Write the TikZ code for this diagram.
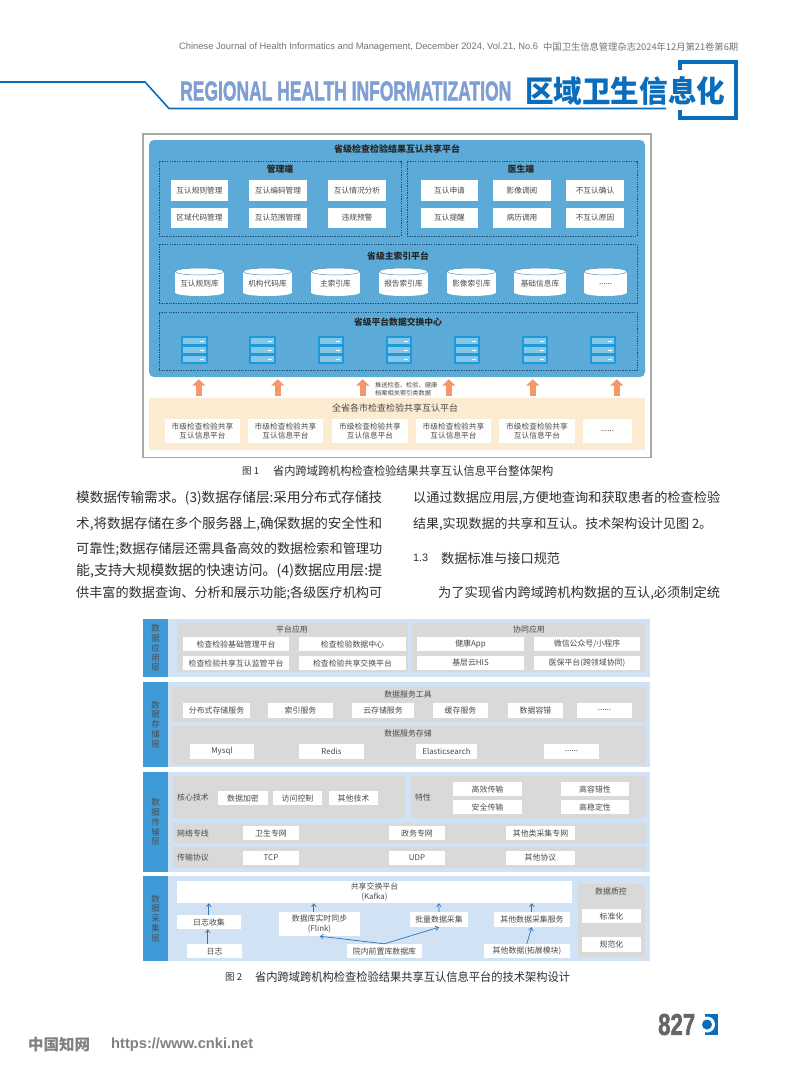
\documentclass[tikz,border=0pt]{standalone}
\usepackage{graphicx}
\usepackage{fontspec}
\setmainfont{Noto Sans CJK SC}
\newfontfamily\lib{Liberation Sans}
\newfontfamily\libheavy[UprightFont=* Bold,FakeBold=2]{Liberation Sans}
\usetikzlibrary{arrows.meta,calc}
\definecolor{hblue}{HTML}{0A6DBB}
\definecolor{hlight}{HTML}{7F9FD4}
\definecolor{panelblue}{HTML}{5CAAD8}
\definecolor{dashblue}{HTML}{1F4E79}
\definecolor{srvblue}{HTML}{1E9ADB}
\definecolor{srvlight}{HTML}{86C6E6}
\definecolor{orangea}{HTML}{F4976C}
\definecolor{cream}{HTML}{FBEBD0}
\definecolor{txt}{HTML}{4A4A4A}
\definecolor{layerbg}{HTML}{D0E2F3}
\definecolor{barblue}{HTML}{3F9BD8}
\definecolor{graypanel}{HTML}{D9D9D9}
\definecolor{arrowblue}{HTML}{2E75B6}
\definecolor{frameg}{HTML}{A8A8A8}
\newcommand\rbx[7][]{\node[boxbase,#1,minimum width={(#5-#3)*1pt},minimum height={(#6-#4)*1pt}] (#2) at ({(#3+#5)/2},{(#4+#6)/2}) {#7};}
\newcommand\rcyl[4]{%
  \fill[white] ({#2},271.5) rectangle ({#3},292.5);
  \fill[white] ({(#2+#3)/2},292.5) ellipse [x radius={(#3-#2)/2*1pt},y radius=3.5pt];
  \draw[panelblue!85!black,fill=white,line width=.5pt] ({(#2+#3)/2},271.5) ellipse [x radius={(#3-#2)/2*1pt},y radius=3.5pt];
  \node[smalltext] (#1) at ({(#2+#3)/2},284) {#4};}
\newcommand\rsrv[3]{%
  \node[fill=srvblue,inner sep=0pt,minimum width={(#3-#2)*1pt},minimum height=28pt] (#1) at ({(#2+#3)/2},350) {};
  \foreach \yy in {338,347,356}{
    \fill[srvlight] ({#2+2},\yy) rectangle ({#3-2},\yy+6.4);
    \fill[white] ({#3-8},\yy+2.7) rectangle ({#3-4},\yy+3.7);}}
\newcommand\rtxt[6][]{\node[anchor=west,inner sep=0pt,text=bodytxt,#1] (#2) at (#3,#4) {\resizebox{#5pt}{!}{#6}};}
\definecolor{bodytxt}{HTML}{2F2F2F}
\tikzset{
  boxbase/.style={inner sep=0pt,align=center},
  smalltext/.style={inner sep=0pt,align=center,text=txt,font=\fontsize{7.7}{9.2}\selectfont},
  whitebox/.style={fill=white,text=txt,font=\fontsize{7.7}{9.2}\selectfont},
  fbox2/.style={fill=white,text=txt,font=\fontsize{7.9}{9.8}\selectfont},
  dashframe/.style={draw=dashblue,dashed,dash pattern=on 1.3pt off 1.1pt,line width=.55pt},
  title1/.style={inner sep=0pt,text=black!85,font=\fontsize{9}{10}\selectfont\bfseries},
  title2/.style={inner sep=0pt,text=txt,font=\fontsize{7.9}{9.6}\selectfont},
  layer/.style={fill=layerbg},
  bar/.style={fill=barblue,text=black!70,font=\fontsize{8.5}{9.8}\selectfont},
  gpanel/.style={fill=graypanel},
  uparrow/.style={-{Triangle[width=13pt,length=6.5pt]},line width=6pt,orangea,shorten >=2pt,shorten <=2pt},
  flow/.style={-{Straight Barb[length=3pt,width=4.5pt]},arrowblue,line width=.7pt},
}
\begin{document}
\begin{tikzpicture}[x=1pt,y=-1pt]
\lineskiplimit=-100pt
\useasboundingbox (0,0) rectangle (794,1077);
\fill[white] (0,0) rectangle (794,1077);
% header
\rtxt[text=black!55]{hd1}{179}{47}{359}{\lib\fontsize{9}{11}\selectfont Chinese Journal of Health Informatics and Management, December 2024, Vol.21, No.6}
\rtxt[text=black!55]{hd2}{543}{47}{195}{\fontsize{9.4}{11}\selectfont 中国卫生信息管理杂志2024年12月第21卷第6期}
\draw[hblue,line width=1.6pt] (0,82) -- (145,82) -- (169,108.5) -- (666,108.5);
\draw[hblue,line width=4.5pt] (680.2,70) -- (680.2,62.2) -- (735.8,62.2) -- (735.8,117.8) -- (680.2,117.8) -- (680.2,110);
\node[anchor=west,inner sep=0pt,text=hlight] (hden) at (180,91) {\resizebox{331pt}{19pt}{\libheavy REGIONAL HEALTH INFORMATIZATION}};
\node[anchor=west,inner sep=0pt,text=hblue] (hdcn) at (525,91) {\resizebox{200pt}{26pt}{\bfseries 区域卫生信息化}};

% ===== Figure 1 =====
\rbx[draw=frameg,line width=1.1pt,fill=white]{frame}{143}{134}{651}{457.5}{}
\rbx[fill=panelblue,rounded corners=5pt]{prov}{149}{140}{645}{377}{}
\node[title1] (provt) at (397,149) {省级检查检验结果互认共享平台};
\rbx[dashframe]{mgr}{159}{161}{401}{236}{}
\rbx[dashframe]{doc}{407}{161}{637}{236}{}
\node[title1,font=\fontsize{8.8}{10}\selectfont\bfseries] (mgrt) at (280,169) {管理端};
\node[title1,font=\fontsize{8.8}{10}\selectfont\bfseries] (doct) at (521,169) {医生端};
\rbx[whitebox]{m1}{171}{180}{228}{201}{互认规则管理}
\rbx[whitebox]{m2}{249}{180}{307}{201}{互认编码管理}
\rbx[whitebox]{m3}{328}{180}{386}{201}{互认情况分析}
\rbx[whitebox]{m4}{171}{208}{228}{228}{区域代码管理}
\rbx[whitebox]{m5}{249}{208}{307}{228}{互认范围管理}
\rbx[whitebox]{m6}{328}{208}{386}{228}{违规预警}
\rbx[whitebox]{d1}{421}{180}{478}{201}{互认申请}
\rbx[whitebox]{d2}{493}{180}{551}{201}{影像调阅}
\rbx[whitebox]{d3}{566}{180}{624}{201}{不互认确认}
\rbx[whitebox]{d4}{421}{208}{478}{228}{互认提醒}
\rbx[whitebox]{d5}{493}{208}{551}{228}{病历调用}
\rbx[whitebox]{d6}{566}{208}{624}{228}{不互认原因}
\rbx[dashframe]{idx}{159}{244}{637}{303}{}
\node[title1,font=\fontsize{8.8}{10}\selectfont\bfseries] (idxt) at (398,256) {省级主索引平台};
\rcyl{c1}{175}{224}{互认规则库}
\rcyl{c2}{243}{292}{机构代码库}
\rcyl{c3}{311}{360}{主索引库}
\rcyl{c4}{379}{428}{报告索引库}
\rcyl{c5}{447}{496}{影像索引库}
\rcyl{c6}{514}{566}{基础信息库}
\rcyl{c7}{584}{627}{......}
\rbx[dashframe]{xch}{159}{312}{637}{370}{}
\node[title1,font=\fontsize{8.8}{10}\selectfont\bfseries] (xcht) at (398,322) {省级平台数据交换中心};
\rsrv{s1}{181}{208}
\rsrv{s2}{249}{276}
\rsrv{s3}{318}{344}
\rsrv{s4}{386}{412}
\rsrv{s5}{454}{480}
\rsrv{s6}{522}{548}
\rsrv{s7}{590}{616}
\rbx[fill=cream]{city}{149}{398}{645}{450}{}
\node[inner sep=0pt,text=txt,font=\fontsize{9}{10}\selectfont] (cityt) at (395,408) {全省各市检查检验共享互认平台};
\rbx[whitebox]{k1}{165}{419}{240}{443}{市级检查检验共享\\互认信息平台}
\rbx[whitebox]{k2}{248}{419}{323}{443}{市级检查检验共享\\互认信息平台}
\rbx[whitebox]{k3}{332}{419}{408}{443}{市级检查检验共享\\互认信息平台}
\rbx[whitebox]{k4}{416}{419}{491}{443}{市级检查检验共享\\互认信息平台}
\rbx[whitebox]{k5}{499}{419}{575}{443}{市级检查检验共享\\互认信息平台}
\rbx[whitebox]{k6}{583}{419}{632}{443}{......}
\foreach \dx in {50,129,214,300,384,468}{
  \draw[uparrow] ($(city.north west)+(\dx,0)$) -- ($(prov.south west)+(\dx,0)$);
}
\node[anchor=west,inner sep=0pt,align=left,text=txt,font=\fontsize{6.2}{7.8}\selectfont] (pushl) at (375,389) {推送检查、检验、健康\\档案相关索引类数据};
\node[anchor=west,inner sep=0pt,text=bodytxt] (cap1a) at (242,471) {\resizebox{17pt}{!}{\fontsize{10}{11}\selectfont 图 1}};
\node[anchor=west,inner sep=0pt,text=bodytxt] (cap1b) at (273,471) {\resizebox{280pt}{10pt}{\fontsize{10}{11}\selectfont 省内跨域跨机构检查检验结果共享互认信息平台整体架构}};

% ===== Body text =====
\rtxt{l1}{76}{498}{306}{\fontsize{12.7}{14}\selectfont 模数据传输需求。(3)数据存储层:采用分布式存储技}
\rtxt{l2}{76}{524}{306}{\fontsize{12.7}{14}\selectfont 术,将数据存储在多个服务器上,确保数据的安全性和}
\rtxt{l3}{76}{549}{306}{\fontsize{12.7}{14}\selectfont 可靠性;数据存储层还需具备高效的数据检索和管理功}
\rtxt{l4}{76}{571}{306}{\fontsize{12.7}{14}\selectfont 能,支持大规模数据的快速访问。(4)数据应用层:提}
\rtxt{l5}{76}{593}{306}{\fontsize{12.7}{14}\selectfont 供丰富的数据查询、分析和展示功能;各级医疗机构可}
\rtxt{r1}{413}{498}{307}{\fontsize{12.7}{14}\selectfont 以通过数据应用层,方便地查询和获取患者的检查检验}
\rtxt{r2}{413}{524}{299}{\fontsize{12.7}{14}\selectfont 结果,实现数据的共享和互认。技术架构设计见图 2。}
\rtxt{r3a}{413}{558}{15}{\lib\fontsize{12}{14}\selectfont 1.3}
\rtxt{r3b}{441}{558}{119}{\fontsize{13}{14}\selectfont 数据标准与接口规范}
\rtxt{r4}{438}{593}{282}{\fontsize{12.7}{14}\selectfont 为了实现省内跨域跨机构数据的互认,必须制定统}

% ===== Figure 2 =====
% layer 1
\rbx[layer]{L1}{143}{619}{650}{677}{}
\rbx[bar]{B1}{143}{619}{168}{677}{数\\据\\应\\用\\层}
\rbx[gpanel]{pa}{177}{623}{408}{672}{}
\rbx[gpanel]{pb}{412}{623}{645}{672}{}
\node[title2] (pat) at (292,629.5) {平台应用};
\node[title2] (pbt) at (529,629.5) {协同应用};
\rbx[fbox2]{a1}{183}{637}{289}{651}{检查检验基础管理平台}
\rbx[fbox2]{a2}{299}{637}{406}{651}{检查检验数据中心}
\rbx[fbox2]{a3}{417}{637}{524}{651}{健康App}
\rbx[fbox2]{a4}{534}{637}{640}{651}{微信公众号/小程序}
\rbx[fbox2]{a5}{183}{656}{289}{670}{检查检验共享互认监管平台}
\rbx[fbox2]{a6}{299}{656}{406}{670}{检查检验共享交换平台}
\rbx[fbox2]{a7}{417}{656}{524}{670}{基层云HIS}
\rbx[fbox2]{a8}{534}{656}{640}{670}{医保平台(跨领域协同)}
% layer 2
\rbx[layer]{L2}{143}{682}{650}{767}{}
\rbx[bar]{B2}{143}{682}{168}{767}{数\\据\\存\\储\\层}
\rbx[gpanel]{pc}{172}{687}{646}{722}{}
\rbx[gpanel]{pd}{172}{726}{646}{765}{}
\node[title2] (pct) at (408,694) {数据服务工具};
\node[title2] (pdt) at (408,733) {数据服务存储};
\rbx[fbox2]{b1}{183}{703}{250}{718}{分布式存储服务}
\rbx[fbox2]{b2}{268}{703}{333}{718}{索引服务}
\rbx[fbox2]{b3}{352}{703}{414}{718}{云存储服务}
\rbx[fbox2]{b4}{433}{703}{488}{718}{缓存服务}
\rbx[fbox2]{b5}{508}{703}{563}{718}{数据容错}
\rbx[fbox2]{b6}{577}{703}{632}{718}{......}
\rbx[fbox2]{e1}{190}{744}{254}{759}{Mysql}
\rbx[fbox2]{e2}{299}{744}{364}{759}{Redis}
\rbx[fbox2]{e3}{416}{744}{477}{759}{Elasticsearch}
\rbx[fbox2]{e4}{544}{744}{599}{759}{......}
% layer 3
\rbx[layer]{L3}{143}{772}{650}{872}{}
\rbx[bar]{B3}{143}{772}{168}{872}{数\\据\\传\\输\\层}
\rbx[gpanel]{pe}{173}{776}{405}{818}{}
\rbx[gpanel]{pf}{411}{776}{646}{818}{}
\rbx[gpanel]{pg}{173}{823}{646}{843}{}
\rbx[gpanel]{ph}{173}{847}{646}{868}{}
\node[title2] (pet) at (193,797) {核心技术};
\node[title2] (pft) at (423,797) {特性};
\node[title2] (pgt) at (193,833) {网络专线};
\node[title2] (pht) at (193,858) {传输协议};
\rbx[fbox2]{t1}{218}{791}{268}{805}{数据加密}
\rbx[fbox2]{t2}{273}{791}{322}{805}{访问控制}
\rbx[fbox2]{t3}{329}{791}{378}{805}{其他技术}
\rbx[fbox2]{f1}{453}{782}{522}{796}{高效传输}
\rbx[fbox2]{f2}{561}{782}{629}{796}{高容错性}
\rbx[fbox2]{f3}{453}{800}{522}{814}{安全传输}
\rbx[fbox2]{f4}{561}{800}{629}{814}{高稳定性}
\rbx[fbox2]{n1}{243}{826}{299}{840}{卫生专网}
\rbx[fbox2]{n2}{389}{826}{445}{840}{政务专网}
\rbx[fbox2]{n3}{506}{826}{575}{840}{其他类采集专网}
\rbx[fbox2]{q1}{243}{851}{299}{865}{TCP}
\rbx[fbox2]{q2}{389}{851}{445}{865}{UDP}
\rbx[fbox2]{q3}{506}{851}{575}{865}{其他协议}
% layer 4
\rbx[layer]{L4}{143}{876}{650}{961}{}
\rbx[bar]{B4}{143}{876}{168}{961}{数\\据\\采\\集\\层}
\rbx[fbox2]{kafka}{177}{881}{572}{903}{共享交换平台\\(Kafka)}
\rbx[gpanel]{qc}{578}{884}{645}{957}{}
\node[title2] (qct) at (611,891) {数据质控};
\rbx[fbox2]{qc1}{582}{909}{641}{923}{标准化}
\rbx[fbox2]{qc2}{582}{937}{641}{952}{规范化}
\rbx[fbox2]{logc}{177}{915}{241}{929}{日志收集}
\rbx[fbox2]{logs}{187}{944}{242}{958}{日志}
\rbx[fbox2]{dbs}{279}{912}{360}{936}{数据库实时同步\\(Flink)}
\rbx[fbox2]{batch}{410}{912}{468}{927}{批量数据采集}
\rbx[fbox2]{other}{494}{912}{570}{927}{其他数据采集服务}
\rbx[fbox2]{front}{347}{944}{422}{958}{院内前置库数据库}
\rbx[fbox2]{extra}{484}{944}{570}{958}{其他数据(拓展模块)}
\draw[flow] ($(logs.north west)+(21,0)$) -- ($(logc.south west)+(31,0)$);
\draw[flow] ($(logc.north west)+(32,0)$) -- ($(kafka.south west)+(32,0)$);
\draw[flow] ($(dbs.north west)+(35,0)$) -- ($(kafka.south west)+(137,0)$);
\draw[flow] (batch.north) -- ($(kafka.south west)+(262,0)$);
\draw[flow] ($(other.north west)+(38,0)$) -- ($(kafka.south west)+(355,0)$);
\draw[flow] (front.north) -- ($(dbs.south west)+(41,0)$);
\draw[flow] (front.north) -- (batch.south);
\draw[flow] ($(extra.north west)+(43,0)$) -- ($(other.south west)+(38,0)$);
\node[anchor=west,inner sep=0pt,text=bodytxt] (cap2a) at (225,977) {\resizebox{17pt}{!}{\fontsize{10}{11}\selectfont 图 2}};
\node[anchor=west,inner sep=0pt,text=bodytxt] (cap2b) at (255,977) {\resizebox{315pt}{10pt}{\fontsize{10}{11}\selectfont 省内跨域跨机构检查检验结果共享互认信息平台的技术架构设计}};

% ===== Footer =====
\node[anchor=west,inner sep=0pt,text=black!50] (cnkic) at (28,1045) {\resizebox{62pt}{!}{\fontsize{15}{16}\selectfont\bfseries 中国知网}};
\node[anchor=west,inner sep=0pt,text=black!50] (cnkiu) at (111,1045) {\resizebox{142pt}{!}{\lib\fontsize{16}{18}\selectfont\bfseries https://www.cnki.net}};
\node[anchor=west,inner sep=0pt,text=black!60] (pageno) at (658,1024.5) {\resizebox{37pt}{21pt}{\libheavy 827}};
\fill[hblue] (705,1014) rectangle (718,1035);
\fill[white] (707,1024.5) circle (8pt);
\fill[hblue] (707,1024.5) circle (5pt);
\end{tikzpicture}
\end{document}
